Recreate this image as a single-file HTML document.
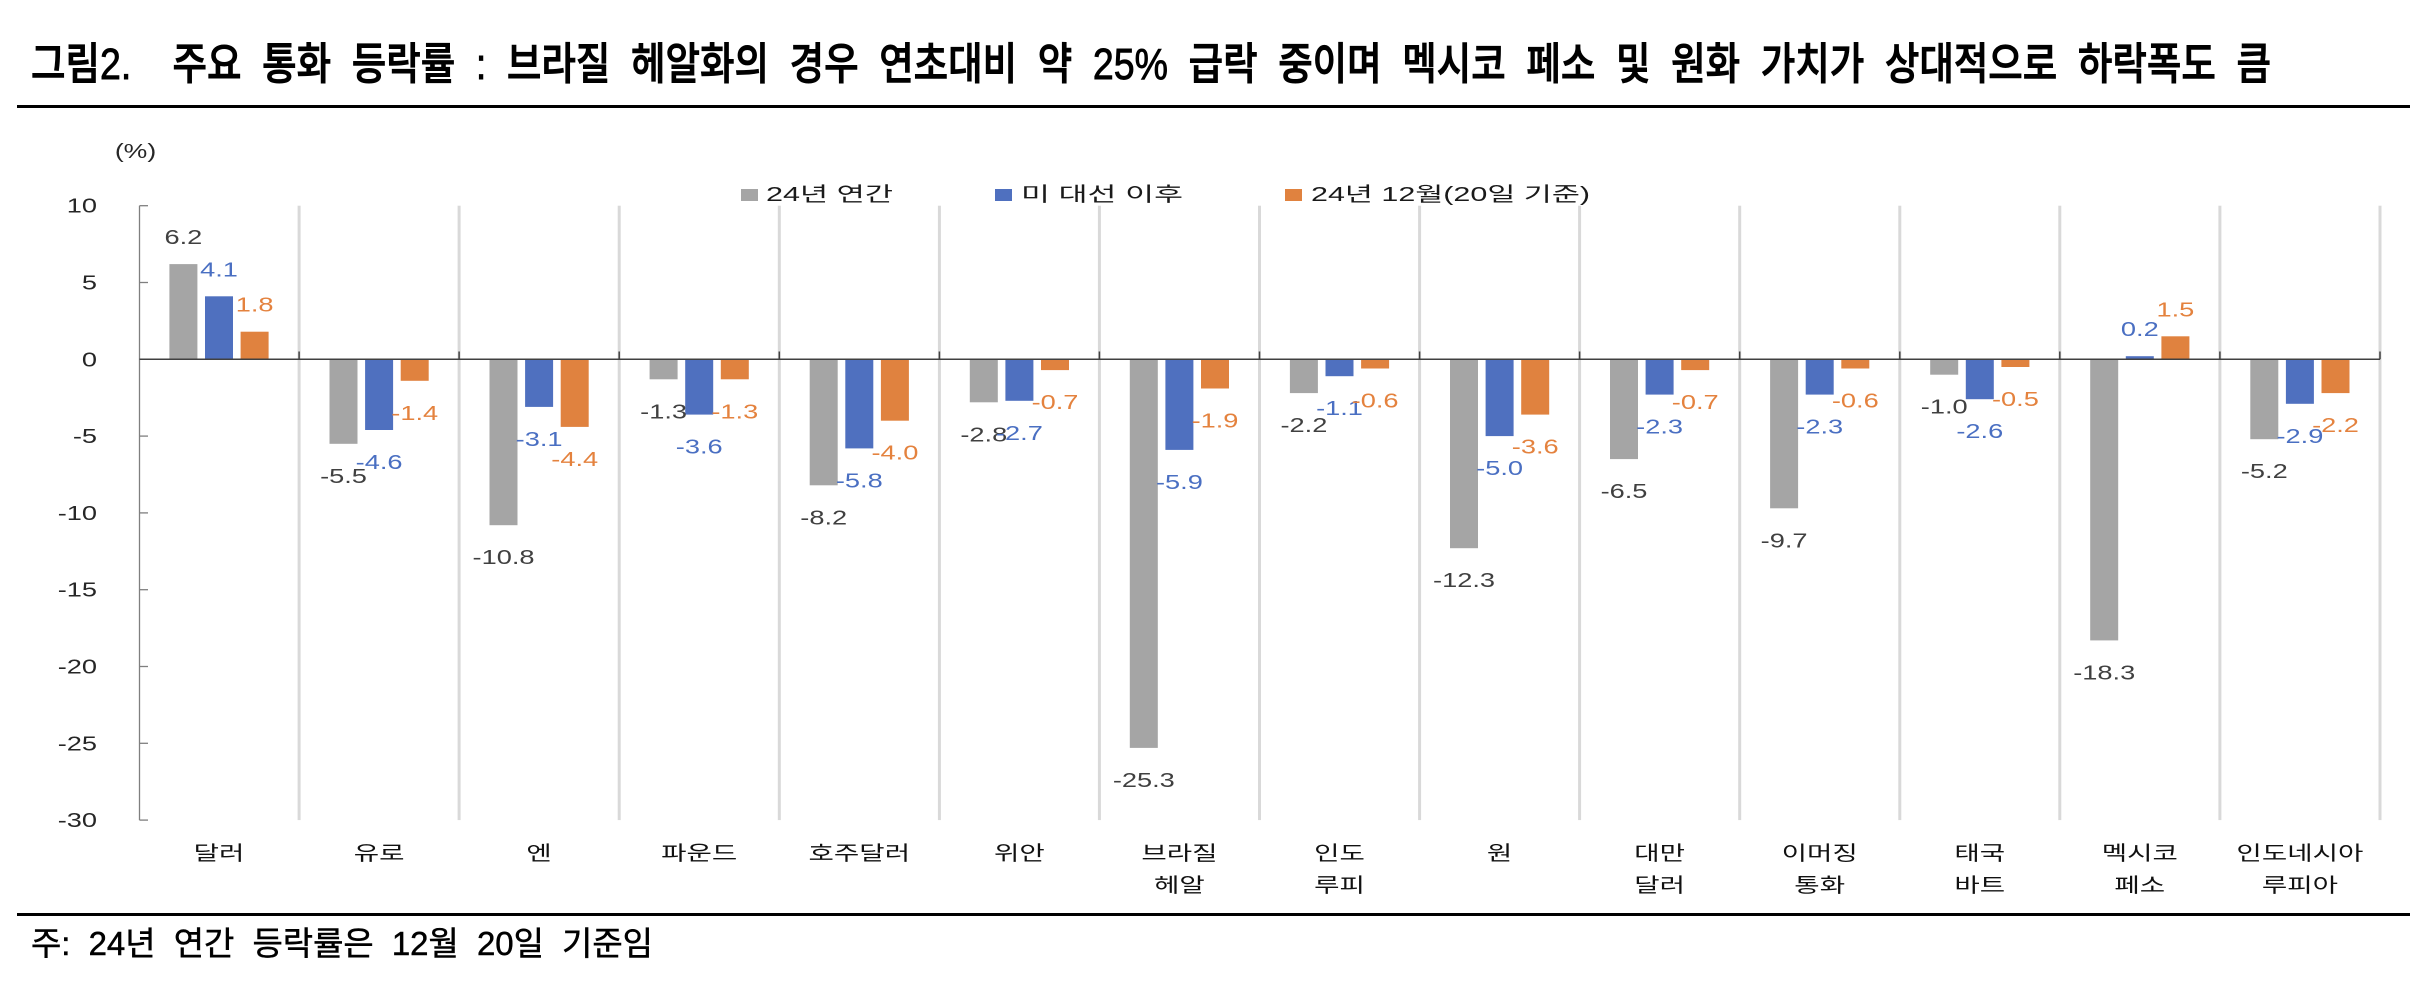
<!DOCTYPE html>
<html><head><meta charset="utf-8">
<style>
html,body{margin:0;padding:0;background:#fff;}
svg{display:block}
text{font-family:"Liberation Sans","Noto Sans CJK KR",sans-serif;}
.d{font-size:20px;text-anchor:middle}
.g{fill:#404040}.b{fill:#4A6FC2}.o{fill:#E4823E}
.cat{font-size:20px;text-anchor:middle;fill:#111}
.ya{font-size:20px;text-anchor:end;fill:#262626}
.lt{font-size:20px;fill:#1a1a1a}
.sep{fill:#D9D9D9}
.bg{fill:#A5A5A5}.bb{fill:#4F70BF}.bo{fill:#E0823F}
</style></head><body>
<svg width="2412" height="1006" viewBox="0 0 2412 1006">
<rect x="0" y="0" width="2412" height="1006" fill="#fff"/>
<!-- title -->
<text x="31" y="79" font-size="44" textLength="2240" lengthAdjust="spacingAndGlyphs" style="white-space:pre;word-spacing:12px;font-weight:500" fill="#000" stroke="#000" stroke-width="0.9">그림2.  주요 통화 등락률 : 브라질 헤알화의 경우 연초대비 약 25% 급락 중이며 멕시코 페소 및 원화 가치가 상대적으로 하락폭도 큼</text>
<rect x="17" y="105" width="2393" height="3" fill="#000"/>
<rect x="17" y="913" width="2393" height="3" fill="#000"/>
<text x="31" y="955" font-size="33" textLength="622" lengthAdjust="spacingAndGlyphs" style="white-space:pre;word-spacing:9px" fill="#000" stroke="#000" stroke-width="0.5">주: 24년 연간 등락률은 12월 20일 기준임</text>

<!-- unit -->
<text class="d" fill="#262626" transform="translate(135.5,158) scale(1.33 1)">(%)</text>

<!-- separators -->
<rect class="sep" x="297.6" y="205.7" width="3" height="614.4"/>
<rect class="sep" x="457.6" y="205.7" width="3" height="614.4"/>
<rect class="sep" x="617.7" y="205.7" width="3" height="614.4"/>
<rect class="sep" x="777.8" y="205.7" width="3" height="614.4"/>
<rect class="sep" x="937.9" y="205.7" width="3" height="614.4"/>
<rect class="sep" x="1097.9" y="205.7" width="3" height="614.4"/>
<rect class="sep" x="1258.0" y="205.7" width="3" height="614.4"/>
<rect class="sep" x="1418.1" y="205.7" width="3" height="614.4"/>
<rect class="sep" x="1578.1" y="205.7" width="3" height="614.4"/>
<rect class="sep" x="1738.2" y="205.7" width="3" height="614.4"/>
<rect class="sep" x="1898.3" y="205.7" width="3" height="614.4"/>
<rect class="sep" x="2058.3" y="205.7" width="3" height="614.4"/>
<rect class="sep" x="2218.4" y="205.7" width="3" height="614.4"/>
<rect class="sep" x="2378.5" y="205.7" width="3" height="614.4"/>

<!-- bars gray -->
<rect class="bg" x="169.4" y="264.1" width="28" height="95.2"/>
<rect class="bg" x="329.5" y="359.3" width="28" height="84.5"/>
<rect class="bg" x="489.5" y="359.3" width="28" height="165.9"/>
<rect class="bg" x="649.6" y="359.3" width="28" height="20.0"/>
<rect class="bg" x="809.7" y="359.3" width="28" height="126.0"/>
<rect class="bg" x="969.8" y="359.3" width="28" height="43.0"/>
<rect class="bg" x="1129.8" y="359.3" width="28" height="388.6"/>
<rect class="bg" x="1289.9" y="359.3" width="28" height="33.8"/>
<rect class="bg" x="1450.0" y="359.3" width="28" height="188.9"/>
<rect class="bg" x="1610.0" y="359.3" width="28" height="99.8"/>
<rect class="bg" x="1770.1" y="359.3" width="28" height="149.0"/>
<rect class="bg" x="1930.2" y="359.3" width="28" height="15.4"/>
<rect class="bg" x="2090.2" y="359.3" width="28" height="281.1"/>
<rect class="bg" x="2250.3" y="359.3" width="28" height="79.9"/>
<!-- bars blue -->
<rect class="bb" x="205.0" y="296.3" width="28" height="63.0"/>
<rect class="bb" x="365.1" y="359.3" width="28" height="70.7"/>
<rect class="bb" x="525.1" y="359.3" width="28" height="47.6"/>
<rect class="bb" x="685.2" y="359.3" width="28" height="55.3"/>
<rect class="bb" x="845.3" y="359.3" width="28" height="89.1"/>
<rect class="bb" x="1005.4" y="359.3" width="28" height="41.5"/>
<rect class="bb" x="1165.4" y="359.3" width="28" height="90.6"/>
<rect class="bb" x="1325.5" y="359.3" width="28" height="16.9"/>
<rect class="bb" x="1485.6" y="359.3" width="28" height="76.8"/>
<rect class="bb" x="1645.6" y="359.3" width="28" height="35.3"/>
<rect class="bb" x="1805.7" y="359.3" width="28" height="35.3"/>
<rect class="bb" x="1965.8" y="359.3" width="28" height="39.9"/>
<rect class="bb" x="2125.8" y="356.2" width="28" height="3.1"/>
<rect class="bb" x="2285.9" y="359.3" width="28" height="44.5"/>
<!-- bars orange -->
<rect class="bo" x="240.6" y="331.7" width="28" height="27.6"/>
<rect class="bo" x="400.7" y="359.3" width="28" height="21.5"/>
<rect class="bo" x="560.7" y="359.3" width="28" height="67.6"/>
<rect class="bo" x="720.8" y="359.3" width="28" height="20.0"/>
<rect class="bo" x="880.9" y="359.3" width="28" height="61.4"/>
<rect class="bo" x="1041.0" y="359.3" width="28" height="10.8"/>
<rect class="bo" x="1201.0" y="359.3" width="28" height="29.2"/>
<rect class="bo" x="1361.1" y="359.3" width="28" height="9.2"/>
<rect class="bo" x="1521.2" y="359.3" width="28" height="55.3"/>
<rect class="bo" x="1681.2" y="359.3" width="28" height="10.8"/>
<rect class="bo" x="1841.3" y="359.3" width="28" height="9.2"/>
<rect class="bo" x="2001.4" y="359.3" width="28" height="7.7"/>
<rect class="bo" x="2161.4" y="336.3" width="28" height="23.0"/>
<rect class="bo" x="2321.5" y="359.3" width="28" height="33.8"/>

<!-- y axis -->
<g stroke="#7F7F7F" stroke-width="1.3">
<line x1="139.5" y1="205.7" x2="139.5" y2="820.1"/>
<line x1="139.5" y1="205.7" x2="148" y2="205.7"/>
<line x1="139.5" y1="282.5" x2="148" y2="282.5"/>
<line x1="139.5" y1="436.1" x2="148" y2="436.1"/>
<line x1="139.5" y1="512.9" x2="148" y2="512.9"/>
<line x1="139.5" y1="589.7" x2="148" y2="589.7"/>
<line x1="139.5" y1="666.5" x2="148" y2="666.5"/>
<line x1="139.5" y1="743.3" x2="148" y2="743.3"/>
<line x1="139.5" y1="820.1" x2="148" y2="820.1"/>
</g>
<!-- zero axis -->
<g stroke="#404040" stroke-width="1.5">
<line x1="139.5" y1="359.3" x2="2380" y2="359.3"/>
<line x1="299.1" y1="351.5" x2="299.1" y2="359.3"/>
<line x1="459.1" y1="351.5" x2="459.1" y2="359.3"/>
<line x1="619.2" y1="351.5" x2="619.2" y2="359.3"/>
<line x1="779.3" y1="351.5" x2="779.3" y2="359.3"/>
<line x1="939.4" y1="351.5" x2="939.4" y2="359.3"/>
<line x1="1099.4" y1="351.5" x2="1099.4" y2="359.3"/>
<line x1="1259.5" y1="351.5" x2="1259.5" y2="359.3"/>
<line x1="1419.6" y1="351.5" x2="1419.6" y2="359.3"/>
<line x1="1579.6" y1="351.5" x2="1579.6" y2="359.3"/>
<line x1="1739.7" y1="351.5" x2="1739.7" y2="359.3"/>
<line x1="1899.8" y1="351.5" x2="1899.8" y2="359.3"/>
<line x1="2059.8" y1="351.5" x2="2059.8" y2="359.3"/>
<line x1="2219.9" y1="351.5" x2="2219.9" y2="359.3"/>
<line x1="2380.0" y1="351.5" x2="2380.0" y2="359.3"/>
</g>

<!-- y labels -->
<text class="ya" transform="translate(97,212.7) scale(1.36 1)">10</text>
<text class="ya" transform="translate(97,289.5) scale(1.36 1)">5</text>
<text class="ya" transform="translate(97,366.3) scale(1.36 1)">0</text>
<text class="ya" transform="translate(97,443.1) scale(1.36 1)">-5</text>
<text class="ya" transform="translate(97,519.9) scale(1.36 1)">-10</text>
<text class="ya" transform="translate(97,596.7) scale(1.36 1)">-15</text>
<text class="ya" transform="translate(97,673.5) scale(1.36 1)">-20</text>
<text class="ya" transform="translate(97,750.3) scale(1.36 1)">-25</text>
<text class="ya" transform="translate(97,827.1) scale(1.36 1)">-30</text>

<!-- data labels gray -->
<text class="d g" transform="translate(183.4,244.1) scale(1.36 1)">6.2</text>
<text class="d g" transform="translate(343.5,482.8) scale(1.36 1)">-5.5</text>
<text class="d g" transform="translate(503.5,564.2) scale(1.36 1)">-10.8</text>
<text class="d g" transform="translate(663.6,418.3) scale(1.36 1)">-1.3</text>
<text class="d g" transform="translate(823.7,524.3) scale(1.36 1)">-8.2</text>
<text class="d g" transform="translate(983.8,441.3) scale(1.36 1)">-2.8</text>
<text class="d g" transform="translate(1143.8,786.9) scale(1.36 1)">-25.3</text>
<text class="d g" transform="translate(1303.9,432.1) scale(1.36 1)">-2.2</text>
<text class="d g" transform="translate(1464.0,587.2) scale(1.36 1)">-12.3</text>
<text class="d g" transform="translate(1624.0,498.1) scale(1.36 1)">-6.5</text>
<text class="d g" transform="translate(1784.1,547.3) scale(1.36 1)">-9.7</text>
<text class="d g" transform="translate(1944.2,413.7) scale(1.36 1)">-1.0</text>
<text class="d g" transform="translate(2104.2,679.4) scale(1.36 1)">-18.3</text>
<text class="d g" transform="translate(2264.3,478.2) scale(1.36 1)">-5.2</text>
<!-- data labels blue -->
<text class="d b" transform="translate(219.0,276.3) scale(1.36 1)">4.1</text>
<text class="d b" transform="translate(379.1,469.0) scale(1.36 1)">-4.6</text>
<text class="d b" transform="translate(539.1,445.9) scale(1.36 1)">-3.1</text>
<text class="d b" transform="translate(699.2,453.6) scale(1.36 1)">-3.6</text>
<text class="d b" transform="translate(859.3,487.4) scale(1.36 1)">-5.8</text>
<text class="d b" transform="translate(1019.4,439.8) scale(1.36 1)">-2.7</text>
<text class="d b" transform="translate(1179.4,488.9) scale(1.36 1)">-5.9</text>
<text class="d b" transform="translate(1339.5,415.2) scale(1.36 1)">-1.1</text>
<text class="d b" transform="translate(1499.6,475.1) scale(1.36 1)">-5.0</text>
<text class="d b" transform="translate(1659.6,433.6) scale(1.36 1)">-2.3</text>
<text class="d b" transform="translate(1819.7,433.6) scale(1.36 1)">-2.3</text>
<text class="d b" transform="translate(1979.8,438.2) scale(1.36 1)">-2.6</text>
<text class="d b" transform="translate(2139.8,336.2) scale(1.36 1)">0.2</text>
<text class="d b" transform="translate(2299.9,442.8) scale(1.36 1)">-2.9</text>
<!-- data labels orange -->
<text class="d o" transform="translate(254.6,311.7) scale(1.36 1)">1.8</text>
<text class="d o" transform="translate(414.7,419.8) scale(1.36 1)">-1.4</text>
<text class="d o" transform="translate(574.7,465.9) scale(1.36 1)">-4.4</text>
<text class="d o" transform="translate(734.8,418.3) scale(1.36 1)">-1.3</text>
<text class="d o" transform="translate(894.9,459.7) scale(1.36 1)">-4.0</text>
<text class="d o" transform="translate(1055.0,409.1) scale(1.36 1)">-0.7</text>
<text class="d o" transform="translate(1215.0,427.5) scale(1.36 1)">-1.9</text>
<text class="d o" transform="translate(1375.1,407.5) scale(1.36 1)">-0.6</text>
<text class="d o" transform="translate(1535.2,453.6) scale(1.36 1)">-3.6</text>
<text class="d o" transform="translate(1695.2,409.1) scale(1.36 1)">-0.7</text>
<text class="d o" transform="translate(1855.3,407.5) scale(1.36 1)">-0.6</text>
<text class="d o" transform="translate(2015.4,406.0) scale(1.36 1)">-0.5</text>
<text class="d o" transform="translate(2175.4,316.3) scale(1.36 1)">1.5</text>
<text class="d o" transform="translate(2335.5,432.1) scale(1.36 1)">-2.2</text>

<!-- legend -->
<rect x="741" y="189" width="17" height="12" fill="#A5A5A5"/>
<text class="lt" x="766" y="201" textLength="127" lengthAdjust="spacingAndGlyphs">24년 연간</text>
<rect x="995" y="189" width="17" height="12" fill="#4F70BF"/>
<text class="lt" x="1021" y="201" textLength="162" lengthAdjust="spacingAndGlyphs">미 대선 이후</text>
<rect x="1285" y="189" width="17" height="12" fill="#E0823F"/>
<text class="lt" x="1311" y="201" textLength="279" lengthAdjust="spacingAndGlyphs">24년 12월(20일 기준)</text>

<!-- category labels -->
<text class="cat" transform="translate(219.0,860) scale(1.38 1)">달러</text>
<text class="cat" transform="translate(379.1,860) scale(1.38 1)">유로</text>
<text class="cat" transform="translate(539.1,860) scale(1.38 1)">엔</text>
<text class="cat" transform="translate(699.2,860) scale(1.38 1)">파운드</text>
<text class="cat" transform="translate(859.3,860) scale(1.38 1)">호주달러</text>
<text class="cat" transform="translate(1019.4,860) scale(1.38 1)">위안</text>
<text class="cat" transform="translate(1179.4,860) scale(1.38 1)">브라질</text>
<text class="cat" transform="translate(1179.4,892) scale(1.38 1)">헤알</text>
<text class="cat" transform="translate(1339.5,860) scale(1.38 1)">인도</text>
<text class="cat" transform="translate(1339.5,892) scale(1.38 1)">루피</text>
<text class="cat" transform="translate(1499.6,860) scale(1.38 1)">원</text>
<text class="cat" transform="translate(1659.6,860) scale(1.38 1)">대만</text>
<text class="cat" transform="translate(1659.6,892) scale(1.38 1)">달러</text>
<text class="cat" transform="translate(1819.7,860) scale(1.38 1)">이머징</text>
<text class="cat" transform="translate(1819.7,892) scale(1.38 1)">통화</text>
<text class="cat" transform="translate(1979.8,860) scale(1.38 1)">태국</text>
<text class="cat" transform="translate(1979.8,892) scale(1.38 1)">바트</text>
<text class="cat" transform="translate(2139.8,860) scale(1.38 1)">멕시코</text>
<text class="cat" transform="translate(2139.8,892) scale(1.38 1)">페소</text>
<text class="cat" transform="translate(2299.9,860) scale(1.38 1)">인도네시아</text>
<text class="cat" transform="translate(2299.9,892) scale(1.38 1)">루피아</text>
</svg>
</body></html>
